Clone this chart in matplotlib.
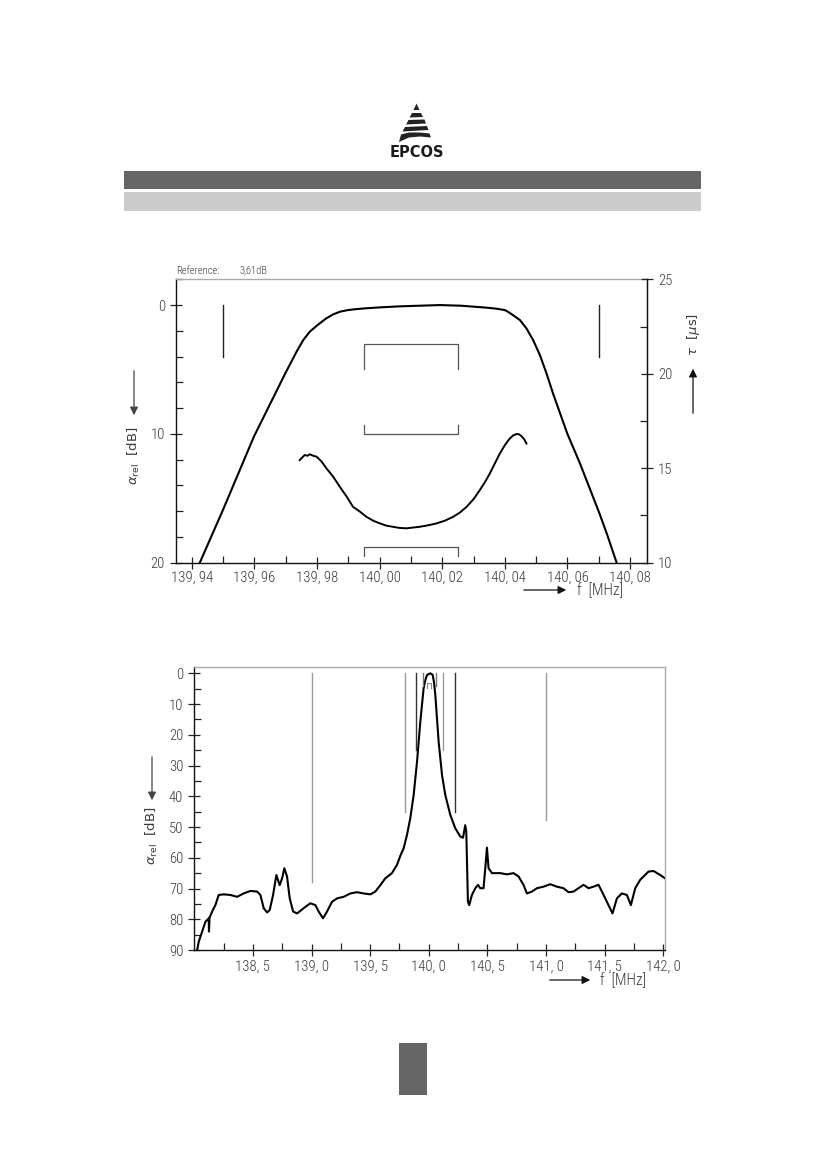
import os
import matplotlib
matplotlib.use('Agg')
import matplotlib.pyplot as plt
from matplotlib import font_manager
from matplotlib.font_manager import FontProperties
from matplotlib.patches import Rectangle, Polygon
import matplotlib.ticker as mt

# pick the narrowest installed sans face for the plotter-like labels
_files = [f.fname for f in font_manager.fontManager.ttflist]
_prefs = [('liberationsansnarrow-regular', 10.6), ('robotocondensed-light', 10.6),
          ('robotocondensed-regular', 10.4), ('opensans_condensed-regular', 9.8),
          ('opensanscondensed-regular', 9.8), ('dejavusanscondensed.ttf', 9.2)]
FP_FILE, TICKFS = None, 8.6
for pat, size in _prefs:
    hit = [p for p in _files if os.path.basename(p).lower().startswith(pat)]
    if hit:
        FP_FILE, TICKFS = hit[0], size
        break


def fp(size):
    if FP_FILE:
        return FontProperties(fname=FP_FILE, size=size)
    return FontProperties(family='DejaVu Sans', size=size)


plt.rcParams['font.family'] = ['DejaVu Sans']
plt.rcParams['mathtext.fontset'] = 'dejavusans'

# ---------------- data: upper chart (passband) ----------------
amp_freq = [139.9405, 139.9426, 139.9500, 139.9599, 139.9699, 139.9735, 139.9756,
            139.9777, 139.9802, 139.9830, 139.9852, 139.9873, 139.9894, 139.9915,
            139.9951, 140.0001, 140.0064, 140.0128, 140.0192, 140.0260, 140.0341,
            140.0373, 140.0400, 140.0410, 140.0426, 140.0448, 140.0469, 140.0490,
            140.0512, 140.0533, 140.0554, 140.0599, 140.0640, 140.0701, 140.0725,
            140.0757, 140.0780]
amp_db = [21.2, 20.0, 15.9, 10.2, 5.3, 3.62, 2.73,
          2.07, 1.55, 1.03, 0.72, 0.52, 0.41, 0.34,
          0.26, 0.18, 0.10, 0.05, 0.0, 0.05, 0.2,
          0.28, 0.39, 0.52, 0.78, 1.16, 1.81, 2.7,
          3.88, 5.3, 6.87, 9.95, 12.3, 16.1, 17.7,
          20.0, 21.7]

dly_freq = [139.9745, 139.9752, 139.9761, 139.9770, 139.9777, 139.9788, 139.9799,
            139.9815, 139.9830, 139.9852, 139.9873, 139.9894, 139.9915, 139.9936,
            139.9958, 139.9980, 140.0001, 140.0022, 140.0043, 140.0064, 140.0086,
            140.0107, 140.0128, 140.0155, 140.0182, 140.0208, 140.0235, 140.0257,
            140.0278, 140.0300, 140.0320, 140.0336, 140.0352, 140.0368, 140.0384,
            140.0400, 140.0416, 140.0427, 140.0437, 140.0445, 140.0453, 140.0461,
            140.0469]
dly_us = [15.43, 15.55, 15.70, 15.66, 15.74, 15.66, 15.61,
          15.35, 15.00, 14.55, 14.02, 13.52, 12.96, 12.72,
          12.43, 12.22, 12.08, 11.96, 11.90, 11.84, 11.82,
          11.86, 11.90, 11.98, 12.08, 12.22, 12.43, 12.66,
          12.96, 13.36, 13.84, 14.25, 14.72, 15.25, 15.78,
          16.22, 16.58, 16.74, 16.81, 16.80, 16.70, 16.55,
          16.31]

top_xticks = [139.94, 139.96, 139.98, 140.00, 140.02, 140.04, 140.06, 140.08]
top_xlabels = ['139, 94', '139, 96', '139, 98', '140, 00', '140, 02', '140, 04', '140, 06', '140, 08']
top_yticks = [0, 10, 20]
top_rticks = [10, 15, 20, 25]

top_marker_f = [139.95, 140.07]
top_marker_db = [0, 4]
bracket_f = [139.995, 140.025]
bracket_levels = [(3.0, 5.0), (10.0, 9.3), (18.8, 19.5)]

# ---------------- data: lower chart (wideband) ----------------
wb_freq = [138.024, 138.038, 138.067, 138.095, 138.123, 138.125, 138.130, 138.152, 138.180,
           138.208, 138.251, 138.308, 138.365, 138.421, 138.478, 138.536, 138.564,
           138.592, 138.621, 138.643, 138.672, 138.700, 138.728, 138.749, 138.768,
           138.791, 138.814, 138.843, 138.877, 138.933, 138.990, 139.033, 139.061,
           139.098, 139.132, 139.175, 139.218, 139.274, 139.331, 139.388, 139.444,
           139.502, 139.544, 139.587, 139.629, 139.686, 139.729, 139.760, 139.785,
           139.814, 139.842, 139.871, 139.900, 139.928, 139.956, 139.970, 139.985,
           140.013, 140.033, 140.045, 140.056, 140.084, 140.113, 140.141, 140.184,
           140.226, 140.269, 140.292, 140.311, 140.320, 140.326, 140.334, 140.345,
           140.368, 140.397, 140.420, 140.439, 140.467, 140.482, 140.496, 140.510,
           140.539, 140.610, 140.667, 140.723, 140.766, 140.808, 140.837, 140.880,
           140.923, 140.979, 141.036, 141.093, 141.149, 141.192, 141.235, 141.277,
           141.320, 141.363, 141.405, 141.448, 141.477, 141.519, 141.567, 141.605,
           141.647, 141.690, 141.724, 141.761, 141.803, 141.874, 141.917, 141.974,
           142.016]
wb_db = [90.0, 87.3, 84.0, 80.8, 79.7, 84.0, 79.5, 77.5, 75.4,
         72.1, 71.9, 72.1, 72.7, 71.6, 70.8, 71.0, 72.1,
         76.4, 77.8, 77.0, 72.1, 65.6, 68.9, 66.7, 63.4,
         66.1, 73.2, 77.5, 78.1, 76.4, 74.8, 75.4, 77.5,
         79.7, 77.5, 74.3, 73.2, 72.7, 71.6, 71.2, 71.6,
         71.9, 71.0, 68.9, 66.7, 65.0, 62.3, 59.1, 57.0,
         52.6, 47.2, 39.6, 28.7, 15.7, 4.9, 2.3, 0.55,
         0.0, 0.5, 3.0, 7.1, 22.2, 33.1, 39.6, 46.1,
         50.4, 53.1, 53.5, 49.4, 51.5, 61.3, 74.3, 75.4,
         72.1, 69.9, 68.8, 69.9, 69.9, 63.4, 56.7, 63.4,
         65.0, 65.0, 65.4, 65.0, 66.1, 68.8, 71.6, 71.0,
         69.9, 69.4, 68.6, 69.4, 69.9, 71.2, 71.0, 69.9,
         68.8, 69.9, 69.4, 68.8, 71.0, 74.3, 78.1, 73.2,
         71.6, 72.1, 75.4, 69.9, 67.2, 64.5, 64.3, 65.6,
         66.7]

bot_xticks = [138.5, 139.0, 139.5, 140.0, 140.5, 141.0, 141.5, 142.0]
bot_xlabels = ['138, 5', '139, 0', '139, 5', '140, 0', '140, 5', '141, 0', '141, 5', '142, 0']
bot_yticks = [0, 10, 20, 30, 40, 50, 60, 70, 80, 90]

bot_marker_f = [139.0, 139.80, 139.89, 139.95, 140.065, 140.125, 140.22, 141.0]
bot_marker_depth = [68, 45, 25, 4, 4, 25, 45, 47.7]
bot_marker_col = ['#999999', '#999999', '#333333', '#777777', '#777777', '#999999', '#333333', '#999999']
small_bracket_f = [139.986, 140.016]
small_bracket_db = (3.2, 4.8)

# ---------------- figure ----------------
W, H = 826, 1169
fig = plt.figure(figsize=(W / 100, H / 100), dpi=100)
fig.patch.set_facecolor('white')

ov = fig.add_axes([0, 0, 1, 1])
ov.set_xlim(0, W)
ov.set_ylim(H, 0)
ov.axis('off')
ov.patch.set_alpha(0)

# header decoration
ov.add_patch(Rectangle((124, 171), 577, 18.3, color='#666666', lw=0))
ov.add_patch(Rectangle((124, 192.3), 577, 18.3, color='#cccccc', lw=0))
# logo (stylised cone)
ov.add_patch(Polygon([(416.5, 103.5), (419.5, 110), (413.5, 110)], closed=True, color='#222222', lw=0))
stripes = [
    [(412, 113), (421, 113), (423, 117), (409.5, 117.5)],
    [(408.5, 120), (424.5, 119.5), (426, 123.5), (406, 124.5)],
    [(405, 127), (427, 126), (428.5, 130), (402.5, 131.5)],
    [(401, 134.5), (409, 132.5), (420, 132.5), (429.5, 133.5), (431, 137.5), (420, 136.5), (409, 137.5), (399, 142)],
]
for s in stripes:
    ov.add_patch(Polygon(s, closed=True, color='#222222', lw=0))
ov.text(417, 152.5, 'EPCOS', ha='center', va='center', fontsize=10.5, fontweight='bold',
        family='DejaVu Sans', color='#1a1a1a')
# page number box
ov.add_patch(Rectangle((399, 1043.3), 28.3, 51.7, color='#666666', lw=0))

TXT = '#3a3a3a'


def style_labels(ax, axis_names=('x', 'y')):
    labs = []
    if 'x' in axis_names:
        labs += ax.get_xticklabels()
    if 'y' in axis_names:
        labs += ax.get_yticklabels()
    for lb in labs:
        lb.set_fontproperties(fp(TICKFS))
        lb.set_color(TXT)


# ---------------- upper chart ----------------
ax1 = fig.add_axes([176 / W, 1 - 562.7 / H, (646.7 - 176) / W, (562.7 - 279.3) / H])
ax1.plot(amp_freq, amp_db, color='black', lw=1.5, solid_joinstyle='round')
ax1.set_xlim(139.935, 140.0853)
ax1.set_ylim(20, -2)
for f in top_marker_f:
    ax1.plot([f, f], top_marker_db, color='#222222', lw=1.0)
for hy, vy in bracket_levels:
    ax1.plot([bracket_f[0], bracket_f[0], bracket_f[1], bracket_f[1]], [vy, hy, hy, vy],
             color='#555555', lw=0.9)
ax1.set_xticks(top_xticks)
ax1.set_xticklabels(top_xlabels)
ax1.xaxis.set_minor_locator(mt.FixedLocator([139.95, 139.97, 139.99, 140.01, 140.03, 140.05, 140.07]))
ax1.set_yticks(top_yticks)
ax1.yaxis.set_minor_locator(mt.MultipleLocator(2))
ax1.tick_params(axis='both', which='major', direction='inout', length=8, width=0.9,
                color='#222222', pad=2)
ax1.tick_params(axis='y', which='major', pad=4)
ax1.tick_params(axis='both', which='minor', direction='in', length=5, width=0.9, color='#222222')
ax1.tick_params(axis='y', which='both', right=False)
ax1.tick_params(axis='x', which='both', top=False)
for side, col in [('left', '#111111'), ('bottom', '#111111'), ('top', '#aaaaaa'), ('right', '#111111')]:
    ax1.spines[side].set_color(col)
    ax1.spines[side].set_linewidth(1.0)
style_labels(ax1)

ax1r = ax1.twinx()
ax1r.plot(dly_freq, dly_us, color='black', lw=1.4, solid_joinstyle='round')
ax1r.set_ylim(10, 25)
ax1r.set_yticks(top_rticks)
ax1r.yaxis.set_minor_locator(mt.FixedLocator([12.5, 17.5, 22.5]))
ax1r.tick_params(axis='y', which='major', direction='inout', length=8, width=0.9,
                 color='#222222', pad=4)
ax1r.tick_params(axis='y', which='minor', direction='in', length=5, width=0.9, color='#222222')
for side in ['left', 'top', 'bottom']:
    ax1r.spines[side].set_visible(False)
ax1r.spines['right'].set_color('#111111')
style_labels(ax1r, ('y',))

ax1.text(0.0, 1.012, 'Reference:', transform=ax1.transAxes, fontproperties=fp(7.6), color=TXT,
         va='bottom', ha='left')
ax1.text(0.135, 1.012, '3,61dB', transform=ax1.transAxes, fontproperties=fp(7.6), color=TXT,
         va='bottom', ha='left')

# axis labels upper chart
ov.annotate('', xy=(134, 418), xytext=(134, 368),
            arrowprops=dict(arrowstyle='-|>', color='#444444', lw=0.9, mutation_scale=12))
ov.text(134, 456, r'$\alpha_{\rm rel}$  [dB]', rotation=90, ha='center', va='center', fontsize=9.5, color=TXT)
ov.annotate('', xy=(693, 366), xytext=(693, 416),
            arrowprops=dict(arrowstyle='-|>', color='#111111', lw=0.9, mutation_scale=12))
ov.text(693, 334, r'$\tau$  [$\mu$s]', rotation=90, ha='center', va='center', fontsize=9.5, color=TXT)
ov.annotate('', xy=(569, 590), xytext=(521, 590),
            arrowprops=dict(arrowstyle='-|>', color='#111111', lw=0.9, mutation_scale=12))
ov.text(577, 590, 'f  [MHz]', ha='left', va='center', fontproperties=fp(TICKFS + 0.6), color=TXT)

# ---------------- lower chart ----------------
ax2 = fig.add_axes([194.3 / W, 1 - 950 / H, (665 - 194.3) / W, (950 - 667.3) / H])
ax2.plot(wb_freq, wb_db, color='black', lw=1.5, solid_joinstyle='round')
ax2.set_xlim(138.0, 142.015)
ax2.set_ylim(90, -1.95)
for f, d, c in zip(bot_marker_f, bot_marker_depth, bot_marker_col):
    ax2.plot([f, f], [0, d], color=c, lw=1.0)
ax2.plot([small_bracket_f[0], small_bracket_f[0], small_bracket_f[1], small_bracket_f[1]],
         [small_bracket_db[1], small_bracket_db[0], small_bracket_db[0], small_bracket_db[1]],
         color='#888888', lw=0.8)
ax2.set_xticks(bot_xticks)
ax2.set_xticklabels(bot_xlabels)
ax2.xaxis.set_minor_locator(mt.FixedLocator([138.25, 138.75, 139.25, 139.75, 140.25, 140.75, 141.25, 141.75]))
ax2.set_yticks(bot_yticks)
ax2.yaxis.set_minor_locator(mt.MultipleLocator(5))
ax2.tick_params(axis='both', which='major', direction='inout', length=8, width=0.9,
                color='#222222', pad=3)
ax2.tick_params(axis='y', which='major', pad=4)
ax2.tick_params(axis='both', which='minor', direction='in', length=5, width=0.9, color='#222222')
ax2.tick_params(axis='y', which='both', right=False)
ax2.tick_params(axis='x', which='both', top=False)
for side, col in [('left', '#111111'), ('bottom', '#111111'), ('top', '#aaaaaa'), ('right', '#aaaaaa')]:
    ax2.spines[side].set_color(col)
    ax2.spines[side].set_linewidth(1.0)
style_labels(ax2)

ov.annotate('', xy=(152, 803), xytext=(152, 754),
            arrowprops=dict(arrowstyle='-|>', color='#444444', lw=0.9, mutation_scale=12))
ov.text(152, 836, r'$\alpha_{\rm rel}$  [dB]', rotation=90, ha='center', va='center', fontsize=9.5, color=TXT)
ov.annotate('', xy=(593, 980), xytext=(547, 980),
            arrowprops=dict(arrowstyle='-|>', color='#111111', lw=0.9, mutation_scale=12))
ov.text(600, 980, 'f  [MHz]', ha='left', va='center', fontproperties=fp(TICKFS + 0.6), color=TXT)

fig.savefig('out.png', dpi=100, facecolor='white')
